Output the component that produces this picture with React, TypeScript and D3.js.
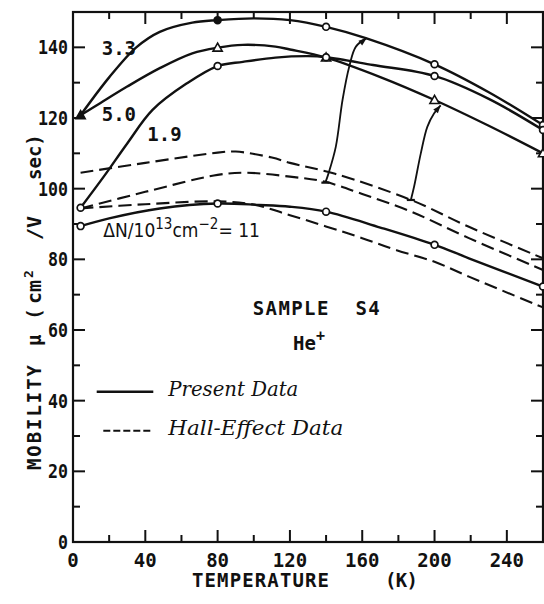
import React from 'react';
import * as d3 from 'd3';

// ---- data ----
// Temperature (K) vs mobility (cm^2/V sec)
const curve33: [number, number][] = [[4.2,120.8],[20,131.5],[35,140],[48,144.4],[66,147],[80,147.7],[100,148.2],[120,147.7],[140,145.8],[162,142.6],[200,135.2],[230,127.3],[260,118]];
const curve50: [number, number][] = [[4.2,120.8],[15,124.2],[30,128.9],[48,134.1],[66,138.3],[80,139.9],[94,140.7],[112,140.2],[120,139.4],[140,137.1],[170,131.6],[200,125.1],[230,117.8],[260,110]];
const curve19: [number, number][] = [[4.2,94.6],[17,103.4],[30,112.8],[44,122.3],[63,129.8],[80,134.7],[94,135.9],[112,137.1],[130,137.5],[140,137.2],[166,135],[200,131.9],[230,125.4],[260,116.6]];
const curve11: [number, number][] = [[4.2,89.4],[20,91.6],[48,94.4],[80,95.8],[103,95.4],[120,94.9],[140,93.5],[170,89],[200,84.1],[219,80.3],[260,72.3]];

const hallA: [number, number][] = [[4.2,104.5],[40,107.3],[80,110.2],[90,110.5],[110,108.8],[120,107.3],[145,104.2],[187,96.8],[219,89.2],[260,80.3]];
const hallB: [number, number][] = [[4.2,94.4],[40,99.1],[80,103.9],[96,104.5],[120,103.4],[139,102],[160,98.5],[187,93.5],[219,86],[260,77]];
const hallC: [number, number][] = [[4.2,94.4],[40,95.6],[80,96.4],[100,95.5],[120,92.5],[160,86],[179,82.6],[200,79.3],[219,75.1],[260,66.4]];

// measured points (markers)
const markers33: [number, number, string][] = [[80,147.7,'circleFilled'],[140,145.8,'circle'],[200,135.2,'circle'],[260,118,'circle']];
const markers50: [number, number, string][] = [[4.2,120.8,'triangleFilled'],[80,139.9,'triangle'],[140,137.1,'triangle'],[200,125.1,'triangle'],[260,110,'triangle']];
const markers19: [number, number, string][] = [[4.2,94.6,'circle'],[80,134.7,'circle'],[140,137.2,'circle'],[200,131.9,'circle'],[260,116.6,'circle']];
const markers11: [number, number, string][] = [[4.2,89.4,'circle'],[80,95.8,'circle'],[140,93.5,'circle'],[200,84.1,'circle'],[260,72.3,'circle']];

const arrowLeft: [number, number][] = [[139.6,101.7],[141.4,104.4],[145.4,111.9],[149.1,125.1],[152.8,134.5],[156.5,140.2],[162.4,142.6]];
const arrowRight: [number, number][] = [[186.9,96.8],[188.7,100.6],[192.4,110.0],[196.0,117.5],[199.7,121.3],[203.4,123.6]];

const xMajorTicks = [0, 40, 80, 120, 160, 200, 240];
const xMinorTicks = [20, 60, 100, 140, 180, 220];
const yMajorTicks = [0, 20, 40, 60, 80, 100, 120, 140];
const yMinorTicks = [10, 30, 50, 70, 90, 110, 130];

const W = 544, H = 604;
const MONO = "'DejaVu Sans Mono', monospace";
const SCRIPT = "'DejaVu Serif', serif";
const INK = '#111';

export default function App() {
  const x = d3.scaleLinear().domain([0, 260]).range([73, 543]);
  const y = d3.scaleLinear().domain([0, 150]).range([542, 12]);
  const line = d3.line<[number, number]>().x(d => x(d[0])).y(d => y(d[1])).curve(d3.curveCatmullRom.alpha(0.5));

  const x0 = x(0), x1 = x(260), y0 = y(0), y1 = y(150);
  const majorLen = 12, minorLen = 7;

  const marker = (m: [number, number, string], i: number) => {
    const cx = x(m[0]), cy = y(m[1]);
    if (m[2].startsWith('circle')) {
      return <circle key={i} cx={cx} cy={cy} r={3.4} fill={m[2] === 'circleFilled' ? INK : '#fff'} stroke={INK} strokeWidth={1.7} />;
    }
    const s = 4.6;
    const pts = `${cx},${cy - s} ${cx - s},${cy + s * 0.75} ${cx + s},${cy + s * 0.75}`;
    return <polygon key={i} points={pts} fill={m[2] === 'triangleFilled' ? INK : '#fff'} stroke={INK} strokeWidth={1.6} />;
  };

  const arrow = (pts: [number, number][], key: string) => {
    const a = pts[pts.length - 2], b = pts[pts.length - 1];
    const ax = x(a[0]), ay = y(a[1]), bx = x(b[0]), by = y(b[1]);
    const ang = Math.atan2(by - ay, bx - ax);
    const L = 8, Wd = 3;
    const p1 = [bx - L * Math.cos(ang) + Wd * Math.sin(ang), by - L * Math.sin(ang) - Wd * Math.cos(ang)];
    const p2 = [bx - L * Math.cos(ang) - Wd * Math.sin(ang), by - L * Math.sin(ang) + Wd * Math.cos(ang)];
    const t = pts[0];
    return (
      <g key={key}>
        <path d={line(pts) || ''} fill="none" stroke={INK} strokeWidth={1.8} />
        <polygon points={`${bx},${by} ${p1[0]},${p1[1]} ${p2[0]},${p2[1]}`} fill={INK} />
        <line x1={x(t[0]) - 4} x2={x(t[0]) + 4} y1={y(t[1])} y2={y(t[1])} stroke={INK} strokeWidth={2.2} />
      </g>
    );
  };

  return (
    <svg width={W} height={H} style={{ position: 'absolute', left: 0, top: 0, background: '#fff' }} fontFamily={MONO}>
      <rect width={W} height={H} fill="#fff" />
      {/* frame */}
      <rect x={x0} y={y1} width={x1 - x0} height={y0 - y1} fill="none" stroke={INK} strokeWidth={2.2} />
      {/* x ticks bottom & top */}
      {xMajorTicks.map(t => (
        <g key={'xM' + t}>
          <line x1={x(t)} x2={x(t)} y1={y0} y2={y0 - majorLen} stroke={INK} strokeWidth={2} />
          <line x1={x(t)} x2={x(t)} y1={y1} y2={y1 + majorLen} stroke={INK} strokeWidth={2} />
          <text x={x(t)} y={567} textAnchor="middle" fontSize={19} fontWeight="bold" fill={INK}>{t}</text>
        </g>
      ))}
      {xMinorTicks.map(t => (
        <g key={'xm' + t}>
          <line x1={x(t)} x2={x(t)} y1={y0} y2={y0 - minorLen} stroke={INK} strokeWidth={2} />
          <line x1={x(t)} x2={x(t)} y1={y1} y2={y1 + minorLen} stroke={INK} strokeWidth={2} />
        </g>
      ))}
      {yMajorTicks.map(t => (
        <g key={'yM' + t}>
          <line x1={x0} x2={x0 + majorLen} y1={y(t)} y2={y(t)} stroke={INK} strokeWidth={2} />
          <line x1={x1} x2={x1 - majorLen} y1={y(t)} y2={y(t)} stroke={INK} strokeWidth={2} />
          <text x={68} y={y(t) + 7} textAnchor="end" fontSize={19} fontWeight="bold" fill={INK}
            textLength={String(t).length * 10} lengthAdjust="spacingAndGlyphs">{t}</text>
        </g>
      ))}
      {yMinorTicks.map(t => (
        <g key={'ym' + t}>
          <line x1={x0} x2={x0 + minorLen} y1={y(t)} y2={y(t)} stroke={INK} strokeWidth={2} />
          <line x1={x1} x2={x1 - minorLen} y1={y(t)} y2={y(t)} stroke={INK} strokeWidth={2} />
        </g>
      ))}

      {/* Hall-effect dashed curves */}
      {[hallA, hallB, hallC].map((c, i) => (
        <path key={'h' + i} d={line(c) || ''} fill="none" stroke={INK} strokeWidth={2.1} strokeDasharray="13 6" />
      ))}
      {/* present data solid curves */}
      {[curve33, curve50, curve19, curve11].map((c, i) => (
        <path key={'c' + i} d={line(c) || ''} fill="none" stroke={INK} strokeWidth={2.4} />
      ))}
      {arrow(arrowLeft, 'aL')}
      {arrow(arrowRight, 'aR')}
      {markers33.map(marker)}
      {markers50.map(marker)}
      {markers19.map(marker)}
      {markers11.map(marker)}

      {/* curve labels */}
      <text x={101.7} y={55} fontSize={19} fontWeight="bold" fill={INK}>3.3</text>
      <text x={101.7} y={120.7} fontSize={19} fontWeight="bold" fill={INK}>5.0</text>
      <text x={147.3} y={140.7} fontSize={19} fontWeight="bold" fill={INK}>1.9</text>
      <text x={103.3} y={237} fontSize={19} fill={INK} fontFamily="'DejaVu Sans', sans-serif" fontStretch="condensed">
        ΔN/10<tspan dy={-8} fontSize={15}>13</tspan><tspan dy={8}>cm</tspan><tspan dy={-8} fontSize={15}>−2</tspan><tspan dy={8}>= 11</tspan>
      </text>

      <text x={252.7} y={315} fontSize={19} fontWeight="bold" fill={INK} textLength={127} lengthAdjust="spacing" style={{ whiteSpace: 'pre' }}>SAMPLE  S4</text>
      <text x={293} y={350} fontSize={19} fontWeight="bold" fill={INK}>He<tspan dy={-9} fontSize={15}>+</tspan></text>

      {/* legend */}
      <line x1={96.7} x2={153.3} y1={391.7} y2={391.7} stroke={INK} strokeWidth={2.4} />
      <text x={168.3} y={396} fontSize={20} fontStyle="italic" fontFamily={SCRIPT} fill={INK} textLength={130} lengthAdjust="spacingAndGlyphs">Present Data</text>
      <line x1={103.3} x2={153.3} y1={430.7} y2={430.7} stroke={INK} strokeWidth={2.1} strokeDasharray="7 3" />
      <text x={168.3} y={435} fontSize={20} fontStyle="italic" fontFamily={SCRIPT} fill={INK} textLength={175} lengthAdjust="spacingAndGlyphs">Hall-Effect Data</text>

      {/* axis titles */}
      <text x={192} y={587} fontSize={19} fontWeight="bold" fill={INK} textLength={137} lengthAdjust="spacing">TEMPERATURE</text>
      <text x={385} y={587} fontSize={19} fontWeight="bold" fill={INK} textLength={33} lengthAdjust="spacing">(K)</text>
      <g transform="translate(41,470) rotate(-90)">
        <text x={0} y={0} fontSize={19} fontWeight="bold" fill={INK} textLength={105} lengthAdjust="spacing">MOBILITY</text>
        <text x={124} y={0} fontSize={19} fontWeight="bold" fill={INK}>μ</text>
        <text x={150} y={0} fontSize={20} fontWeight="bold" fill={INK}>(</text>
        <text x={166} y={0} fontSize={20} fontWeight="bold" fill={INK}>cm</text>
        <text x={192} y={-8} fontSize={13} fontWeight="bold" fill={INK}>2</text>
        <text x={230} y={0} fontSize={20} fontWeight="bold" fill={INK}>/V</text>
        <text x={290} y={0} fontSize={19} fontWeight="bold" fill={INK}>sec)</text>
      </g>
    </svg>
  );
}
